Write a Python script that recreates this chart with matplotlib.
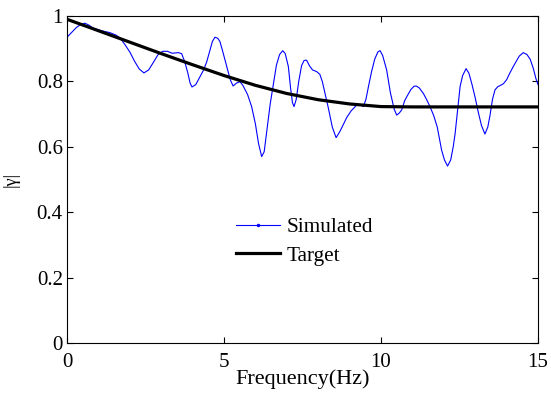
import matplotlib
matplotlib.use("Agg")
import matplotlib.pyplot as plt
from matplotlib.lines import Line2D

plt.rcParams['font.family'] = ['Liberation Serif', 'DejaVu Serif']

sim_x = [0.0, 0.15, 0.3, 0.45, 0.57, 0.7, 0.83, 1.1, 1.37, 1.55, 1.69, 1.85, 2.0, 2.15,
         2.3, 2.45, 2.6, 2.75, 2.9, 3.05, 3.2, 3.35, 3.54, 3.65, 3.75, 3.85, 3.92, 3.98,
         4.1, 4.24, 4.35, 4.45, 4.55, 4.63, 4.71, 4.8, 4.87, 4.95, 5.09, 5.2, 5.29, 5.4,
         5.51, 5.6, 5.75, 5.88, 6.0, 6.1, 6.2, 6.28, 6.38, 6.47, 6.57, 6.67, 6.77, 6.87,
         6.95, 7.05, 7.12, 7.18, 7.23, 7.3, 7.38, 7.47, 7.55, 7.63, 7.72, 7.82, 7.95, 8.05,
         8.13, 8.2, 8.32, 8.45, 8.57, 8.68, 8.8, 8.91, 9.05, 9.23, 9.35, 9.44, 9.52, 9.6,
         9.7, 9.8, 9.9, 9.97, 10.05, 10.18, 10.3, 10.42, 10.5, 10.58, 10.66, 10.75, 10.82,
         10.95, 11.05, 11.12, 11.22, 11.35, 11.45, 11.56, 11.68, 11.79, 11.87, 11.93, 12.02,
         12.12, 12.22, 12.3, 12.36, 12.45, 12.52, 12.6, 12.71, 12.8, 12.9, 13.0, 13.1, 13.2,
         13.31, 13.4, 13.47, 13.55, 13.63, 13.72, 13.79, 13.9, 14.0, 14.1, 14.21, 14.3, 14.4,
         14.53, 14.65, 14.75, 14.85, 14.93, 15.0]
sim_y = [0.935, 0.95, 0.965, 0.975, 0.978, 0.972, 0.963, 0.955, 0.949, 0.942, 0.933, 0.912,
         0.89, 0.862, 0.838, 0.826, 0.835, 0.858, 0.882, 0.892, 0.892, 0.886, 0.888, 0.885,
         0.86, 0.825, 0.795, 0.783, 0.79, 0.815, 0.835, 0.86, 0.895, 0.922, 0.935, 0.932,
         0.922, 0.895, 0.845, 0.805, 0.786, 0.795, 0.799, 0.788, 0.76, 0.723, 0.67, 0.61,
         0.57, 0.585, 0.66, 0.73, 0.79, 0.85, 0.882, 0.894, 0.885, 0.845, 0.78, 0.735, 0.723,
         0.745, 0.8, 0.848, 0.864, 0.865, 0.848, 0.835, 0.83, 0.822, 0.8, 0.77, 0.72, 0.66,
         0.628, 0.645, 0.668, 0.69, 0.71, 0.728, 0.728, 0.723, 0.745, 0.784, 0.83, 0.868,
         0.89, 0.894, 0.88, 0.835, 0.765, 0.715, 0.697, 0.703, 0.713, 0.74, 0.753, 0.775,
         0.785, 0.786, 0.78, 0.763, 0.745, 0.723, 0.695, 0.661, 0.62, 0.59, 0.56, 0.541,
         0.56, 0.6, 0.64, 0.72, 0.785, 0.818, 0.839, 0.825, 0.79, 0.75, 0.705, 0.665, 0.639,
         0.66, 0.695, 0.745, 0.774, 0.784, 0.787, 0.793, 0.805, 0.825, 0.845, 0.86, 0.877,
         0.888, 0.882, 0.868, 0.84, 0.81, 0.79]

tgt_x = [0, 1, 2, 3, 4, 5, 6, 7, 8, 9, 10, 11, 12, 13, 14, 15]
tgt_y = [0.99, 0.955, 0.92, 0.885, 0.851, 0.818, 0.788, 0.763, 0.744, 0.731, 0.723,
         0.722, 0.722, 0.722, 0.722, 0.722]

fig = plt.figure(figsize=(5.51, 4.01), dpi=100)
ax = fig.add_axes([0.1216, 0.1446, 0.8548, 0.8155])

ax.plot(sim_x, sim_y, color='#0000ff', lw=0.8)
ax.plot(tgt_x, tgt_y, color='black', lw=2.3)

ax.set_xlim(0, 15)
ax.set_ylim(0, 1)
ax.set_xticks([0, 5, 10, 15])
ax.set_yticks([0, 0.2, 0.4, 0.6, 0.8, 1.0])
ax.set_yticklabels(['0', '0.2', '0.4', '0.6', '0.8', '1'])
ax.tick_params(direction='in', top=True, right=True, labelsize=15, length=4, width=0.8)
ax.tick_params(axis='y', pad=3)
ax.tick_params(axis='x', pad=7)
for s in ax.spines.values():
    s.set_linewidth(0.8)
ax.set_xlabel('Frequency(Hz)', fontsize=16, labelpad=-2)
ax.set_ylabel('|γ|', fontsize=13, labelpad=12)

handles = [Line2D([], [], color='#0000ff', lw=0.8, marker='.', markersize=3),
           Line2D([], [], color='black', lw=2.3)]
ax.legend(handles, ['Simulated', 'Target'], loc='upper left',
          bbox_to_anchor=(0.34, 0.41), borderaxespad=0, frameon=False, fontsize=15.3,
          handlelength=2.1, handletextpad=0.3, labelspacing=0.4)

fig.savefig('out.png', dpi=100)
